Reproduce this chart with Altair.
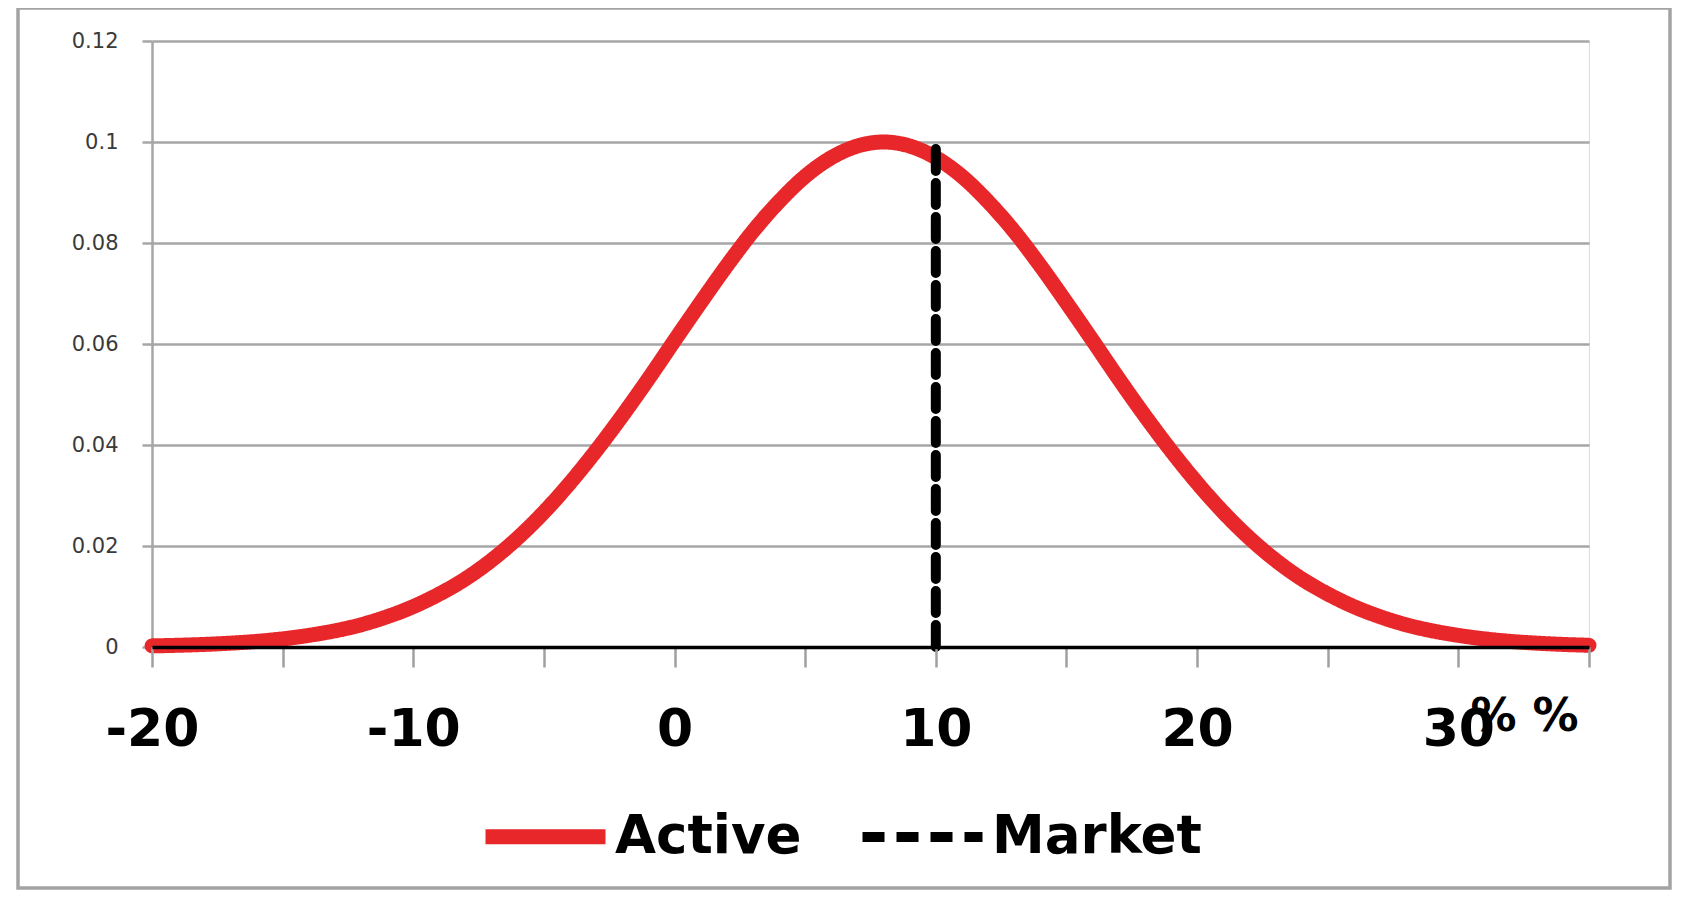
import altair as alt
import pandas as pd

# Values
active_x = list(range(-20, 36))
active_y = [0.00022, 0.00034, 0.00051, 0.00076, 0.0011, 0.0016, 0.0023, 0.0032,
            0.0044, 0.0060, 0.0080, 0.0105, 0.0135, 0.0172, 0.0216, 0.0267,
            0.0325, 0.0389, 0.0458, 0.0531, 0.0607, 0.0682, 0.0755, 0.0823,
            0.0882, 0.0932, 0.0969, 0.0992, 0.1000, 0.0992, 0.0969, 0.0932,
            0.0882, 0.0823, 0.0755, 0.0682, 0.0607, 0.0531, 0.0458, 0.0389,
            0.0325, 0.0267, 0.0216, 0.0172, 0.0135, 0.0105, 0.0080, 0.0060,
            0.0044, 0.0032, 0.0023, 0.0016, 0.0011, 0.00076, 0.00051, 0.00034]
market_x = [10, 10]
market_y = [0.0, 0.1]
series_names = ["Active", "Market"]
x_ticks = [-20, -15, -10, -5, 0, 5, 10, 15, 20, 25, 30, 35]
y_ticks = [0, 0.02, 0.04, 0.06, 0.08, 0.1, 0.12]
x_title = "% %"

active_df = pd.DataFrame({"x": active_x, "y": active_y, "series": "Active"})
market_df = pd.DataFrame({"x": market_x, "y": market_y, "series": "Market"})

BOLD = "DejaVu Sans"

x_enc = alt.X(
    "x:Q",
    scale=alt.Scale(domain=[-20, 35], nice=False, zero=False),
    axis=alt.Axis(
        values=x_ticks,
        labelExpr="datum.value % 10 == 0 ? toString(datum.value) : ''",
        labelOverlap=False,
        labelFont=BOLD, labelFontWeight="bold", labelFontSize=52, labelColor="black",
        labelBaseline="alphabetic", labelPadding=78, labelFlush=False,
        tickSize=20, tickColor="#a0a0a0", tickWidth=2.5,
        domainColor="black", domainWidth=3.5,
        grid=False, zindex=1,
        title=x_title, titleFont=BOLD, titleFontWeight="bold", titleFontSize=46,
        titleColor="black", titleAlign="left", titleBaseline="alphabetic",
        titleAnchor="start", titleX=1318, titleY=83,
    ),
)
y_enc = alt.Y(
    "y:Q",
    scale=alt.Scale(domain=[0, 0.12], nice=False),
    axis=alt.Axis(
        values=y_ticks, format=".2~f",
        labelFont="DejaVu Sans", labelFontSize=21, labelColor="#3a3a3a",
        labelPadding=24, labelBaseline="middle",
        tickSize=10, tickColor="#a6a6a6", tickWidth=2.5,
        domainColor="#a6a6a6", domainWidth=2.5,
        grid=True, gridColor="#a6a6a6", gridWidth=2.5,
        title=None,
    ),
)


def make_legend():
    return alt.Legend(
        orient="none", legendX=326, legendY=728, direction="horizontal", columns=2,
        title=None, symbolType="stroke", symbolSize=14400,
        labelFont=BOLD, labelFontWeight="bold", labelFontSize=53, labelColor="black",
        labelLimit=500, labelOffset=2, columnPadding=40, padding=0,
    )


color_enc = alt.Color(
    "series:N",
    scale=alt.Scale(domain=series_names, range=["#E8272B", "#000000"]),
    legend=make_legend(),
)
dash_enc = alt.StrokeDash(
    "series:N",
    scale=alt.Scale(domain=series_names, range=[[1, 0], [22, 12]]),
    legend=make_legend(),
)
width_enc = alt.StrokeWidth(
    "series:N",
    scale=alt.Scale(domain=series_names, range=[15, 10]),
    legend=make_legend(),
)

active = alt.Chart(active_df).mark_line(interpolate="monotone", strokeCap="round").encode(
    x=x_enc, y=y_enc, color=color_enc, strokeDash=dash_enc, strokeWidth=width_enc
)
market = alt.Chart(market_df).mark_line(strokeCap="round").encode(
    x=x_enc, y=y_enc, color=color_enc, strokeDash=dash_enc, strokeWidth=width_enc
)

frame = alt.Chart(pd.DataFrame({"f": [0]})).mark_rect(
    filled=False, stroke="#a3a3a3", strokeWidth=3.5
).encode(
    x=alt.value(-134), x2=alt.value(1518), y=alt.value(-33), y2=alt.value(847)
)

chart = alt.layer(frame, active, market).properties(
    width=1437, height=606,
    autosize=alt.AutoSizeParams(type="none"),
    padding={"left": 144, "top": 33, "right": 86, "bottom": 243},
).configure_view(stroke=None).configure(background="white")

chart.save("out.html", embed_options={"renderer": "svg", "actions": False})
